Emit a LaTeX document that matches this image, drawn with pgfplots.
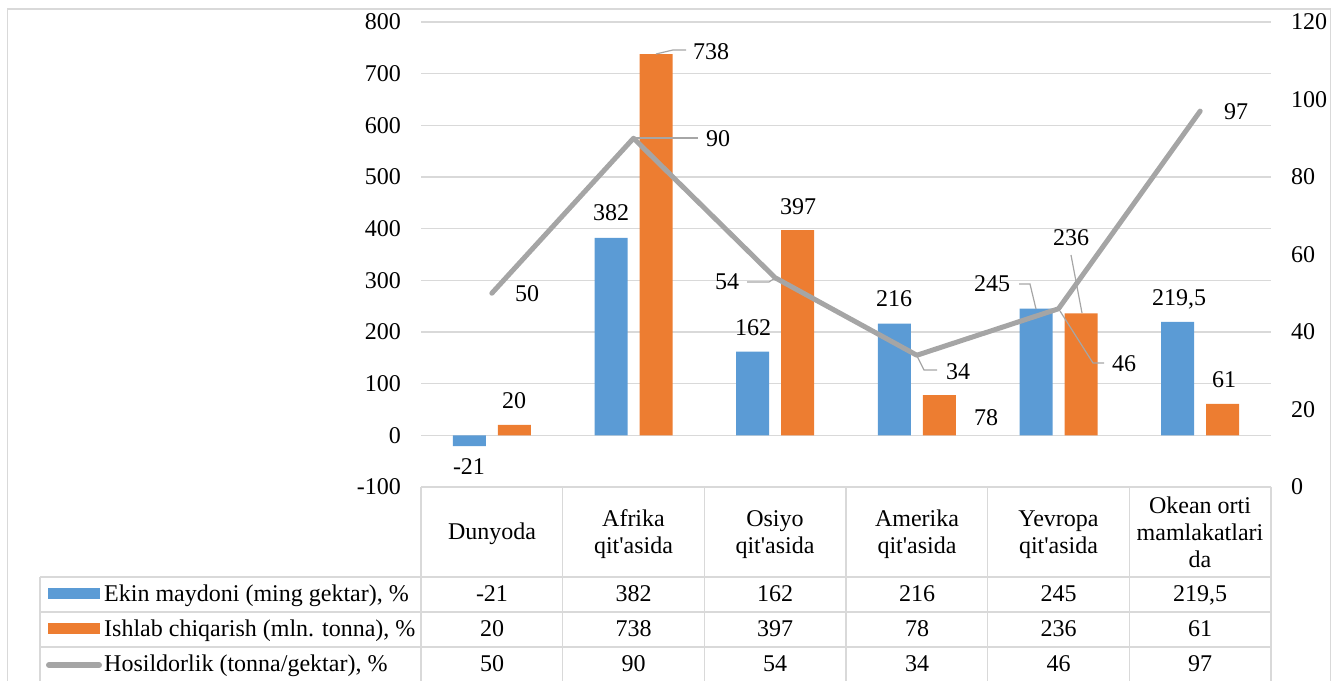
\documentclass[border=0pt]{standalone}
\usepackage{pgfplots}
\usepackage{pgfplotstable}
\pgfplotsset{compat=1.18}
\usepackage{fontspec}
\setmainfont{Liberation Serif}

\definecolor{ekin}{HTML}{5B9BD5}
\definecolor{ishlab}{HTML}{ED7D31}
\definecolor{hosil}{HTML}{A5A5A5}
\definecolor{gridc}{HTML}{D9D9D9}
\definecolor{leadc}{HTML}{A6A6A6}

% idx: category position; ekin, ishlab on the left axis, hosil on the right axis
\pgfplotstableread{
idx ekin  ishlab hosil
0   -21   20     50
1   382   738    90
2   162   397    54
3   216   78     34
4   245   236    46
5   219.5 61     97
}\datatab

\newcommand{\fs}{\fontsize{24bp}{28bp}\selectfont}
\newcommand{\qa}{qit\textquotesingle asida}

\begin{document}
\begin{tikzpicture}
\useasboundingbox (0,0) rectangle (1337bp,681bp);

% bars, left axis
\begin{axis}[
  at={(421bp,194bp)}, anchor=south west, scale only axis,
  width=850bp, height=465bp,
  xmin=-0.5, xmax=5.5, ymin=-100, ymax=800,
  xtick=\empty,
  ytick={-100,0,...,800},
  yticklabels={-100,0,100,200,300,400,500,600,700,800},
  ymajorgrids, grid style={draw=gridc, line width=1.4bp},
  axis line style={draw=none}, major tick length=0pt,
  yticklabel style={font=\fs, anchor=east, inner sep=0pt, xshift=-20bp,
    text height=16bp, text depth=0pt},
  ybar=12bp, bar width=33bp,
  clip=false,
]
\addplot[fill=ekin, draw=none] table[x=idx, y=ekin] {\datatab};
\addplot[fill=ishlab, draw=none] table[x=idx, y=ishlab] {\datatab};
\end{axis}

% line, right axis
\begin{axis}[
  at={(421bp,194bp)}, anchor=south west, scale only axis,
  width=850bp, height=465bp,
  xmin=-0.5, xmax=5.5, ymin=0, ymax=120,
  xtick=\empty, ytick={0,20,...,120},
  yticklabel pos=right,
  axis line style={draw=none}, major tick length=0pt,
  /pgf/number format/assume math mode=true,
  yticklabel style={font=\fs, anchor=west, inner sep=0pt, xshift=20bp,
    text height=16bp, text depth=0pt},
  clip=false,
]
\addplot[hosil, line width=5bp, line join=round, line cap=round]
  table[x=idx, y=hosil] {\datatab};
\end{axis}

\begin{scope}[yshift=681bp, x=1bp, y=-1bp,
  lab/.style={font=\fs, inner sep=0pt, text height=16bp, text depth=0pt, anchor=center},
  ld/.style={draw=leadc, line width=1.2bp}]
  % outer frame
  \draw[gridc, line width=1.5bp] (7.5,681) -- (7.5,9) -- (1330.5,9) -- (1330.5,681);

  % data table grid
  \begin{scope}[gridc, line width=1.4bp]
    \draw (421,487) -- (1271,487);
    \foreach \yy in {577,612,647} \draw (40,\yy) -- (1271,\yy);
    \draw (40,577) -- (40,681);
    \foreach \xx in {421,562.67,704.33,846,987.67,1129.33,1271} \draw (\xx,487) -- (\xx,681);
  \end{scope}

  % header row
  \node[lab] at (492,532) {Dunyoda};
  \node[lab] at (633.5,519) {Afrika};
  \node[lab] at (633.5,546) {\qa};
  \node[lab] at (775,519) {Osiyo};
  \node[lab] at (775,546) {\qa};
  \node[lab] at (917,519) {Amerika};
  \node[lab] at (917,546) {\qa};
  \node[lab] at (1058.5,519) {Yevropa};
  \node[lab] at (1058.5,546) {\qa};
  \node[lab] at (1200,506) {Okean orti};
  \node[lab] at (1200,533) {mamlakatlari};
  \node[lab] at (1200,560) {da};

  % legend keys and series names
  \fill[ekin] (48,588) rectangle (100,599);
  \fill[ishlab] (48,623) rectangle (100,634);
  \draw[hosil, line width=6bp, line cap=round] (49,665) -- (99,665);
  \node[lab, anchor=west] at (104,594) {Ekin maydoni (ming gektar), \%};
  \node[lab, anchor=west] at (104,629) {Ishlab chiqarish (mln. tonna), \%};
  \node[lab, anchor=west] at (104,664) {Hosildorlik (tonna/gektar), \%};

  % table values
  \foreach \xx/\a/\b/\c in {492/-21/20/50, 633.5/382/738/90, 775/162/397/54,
                            917/216/78/34, 1058.5/245/236/46, 1200/{219,5}/61/97} {
    \node[lab] at (\xx,594) {\a};
    \node[lab] at (\xx,629) {\b};
    \node[lab] at (\xx,664) {\c};
  }

  % data labels and leader lines
  \node[lab] at (469,467) {-21};
  \node[lab] at (514,401) {20};
  \node[lab] at (527,294) {50};
  \node[lab] at (611,213) {382};
  \node[lab] at (711,52) {738};
  \draw[ld] (656,54) -- (673,50) -- (686,50);
  \node[lab] at (718,139) {90};
  \draw[ld] (633,138) -- (698,138);
  \node[lab] at (727,282) {54};
  \draw[ld] (747,282) -- (769,282) -- (775,278);
  \node[lab] at (753,328) {162};
  \node[lab] at (798,207) {397};
  \node[lab] at (894,299) {216};
  \node[lab] at (958,372) {34};
  \draw[ld] (917,356) -- (924,370) -- (937,370);
  \node[lab] at (986,418) {78};
  \node[lab] at (992,284) {245};
  \draw[ld] (1019,284) -- (1030,284) -- (1036,309);
  \node[lab] at (1071,238) {236};
  \draw[ld] (1071,255) -- (1082,313);
  \node[lab] at (1124,364) {46};
  \draw[ld] (1060,311) -- (1093,363) -- (1104,363);
  \node[lab] at (1179,298) {219,5};
  \node[lab] at (1224,380) {61};
  \node[lab] at (1236,112) {97};
\end{scope}
\end{tikzpicture}
\end{document}
